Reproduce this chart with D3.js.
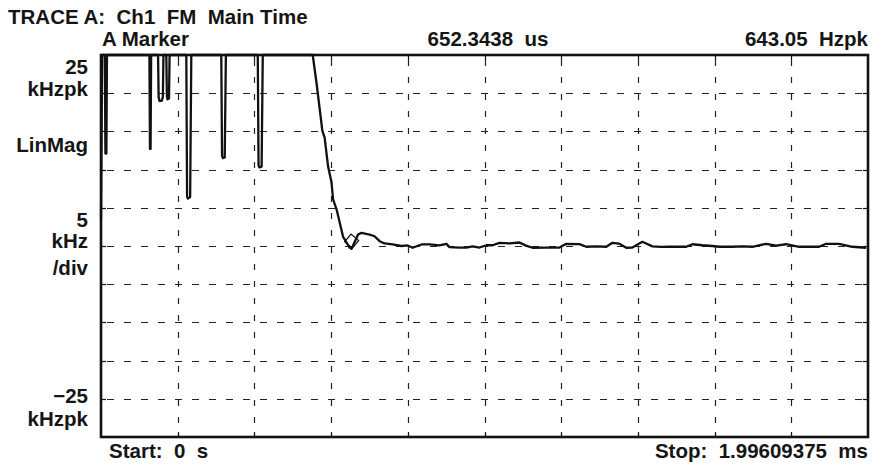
<!DOCTYPE html>
<html>
<head>
<meta charset="utf-8">
<script src="https://cdn.jsdelivr.net/npm/d3@7"></script>
<style>
  body { margin: 0; background: #fff; }
  text { font-family: "Liberation Sans", Arial, sans-serif; font-weight: bold; font-size: 20.5px; fill: #151515; white-space: pre; }
</style>
</head>
<body>
<div id="chart"></div>
<script>
// trace: time in us, deviation in kHz (clipped at +25)
const traceTime = [0, 3, 10, 11.5, 14, 15.5,
  126, 127.5, 129, 130.5,
  148.5, 150, 152, 158, 161, 162.5,
  170, 171.5, 173, 177, 178.5,
  222, 224, 226, 232, 235,
  313, 315, 317, 322, 325,
  408, 410, 412, 418, 421,
  551, 561, 576, 582, 591, 600, 604, 613, 621, 630, 639, 647, 652,
  669, 678, 699, 712, 725, 738, 759, 782, 798, 811, 834, 855, 881, 899,
  907, 933, 951, 967, 985, 1003, 1019, 1037, 1063, 1089, 1106, 1123, 1159, 1193,
  1211, 1245, 1263, 1289, 1315, 1331, 1349, 1367, 1383, 1409, 1435, 1457, 1479,
  1523, 1539, 1565, 1591, 1609, 1643, 1669, 1695, 1731, 1757, 1783, 1817, 1843,
  1869, 1887, 1921, 1955, 1991]
const traceKHz = [3.5, 25, 25, 12.1, 12.1, 25,
  25, 12.7, 12.7, 25,
  25, 19.5, 19.0, 19.0, 19.5, 25,
  25, 19.6, 19.2, 19.3, 25,
  25, 6.5, 6.2, 6.4, 25,
  25, 11.8, 11.5, 11.6, 25,
  25, 10.6, 10.3, 10.4, 25,
  25, 21.3, 15.1, 14.2, 10.4, 8.3, 6.1, 4.8, 3.1, 1.2, 0.46, -0.2, -0.37,
  1.5, 1.72, 1.5, 1.28, 0.63, 0.33, 0.2, 0, 0.07, -0.23, 0.2, 0.2, 0.07, 0.29,
  -0.15, -0.2, -0.2, -0.05, -0.2, 0.1, 0.1, 0.42, 0.35, 0.46, 0.05, -0.23, -0.2, -0.2,
  0.29, 0.25, -0.1, -0.05, -0.1, 0.42, 0.3, -0.23, -0.2, 0.55, -0.05, -0.12, -0.1,
  -0.1, 0.23, 0.1, 0.0, -0.1, -0.1, -0.05, -0.1, 0.29, 0.05, 0.23, -0.1, -0.1,
  -0.1, 0.29, 0.29, -0.1, -0.23]

const xMax = 1996.09375   // us
const yDomain = [-25, 25]
const divisions = 10
const marker = { t: 652.3438, v: 0.64305 }

const leftLabels = [
  { text: "25", y: 74 }, { text: "kHzpk", y: 96 }, { text: "LinMag", y: 152 },
  { text: "5", y: 227 }, { text: "kHz", y: 248 }, { text: "/div", y: 275 },
  { text: "\u221225", y: 403 }, { text: "kHzpk", y: 426 }
]

const W = 878, H = 466
const plot = { left: 101, right: 868, top: 55, bottom: 437 }

const svg = d3.select("#chart").append("svg")
  .attr("width", W).attr("height", H)

const x = d3.scaleLinear().domain([0, xMax]).range([plot.left, plot.right])
const y = d3.scaleLinear().domain(yDomain).range([plot.bottom, plot.top])

const xDivs = d3.range(1, divisions).map(i => i * xMax / divisions)
const yDivs = d3.range(1, divisions).map(i => yDomain[0] + i * (yDomain[1] - yDomain[0]) / divisions)

// dashed graticule
svg.append("g").selectAll("line.v").data(xDivs).enter().append("line")
  .attr("x1", d => Math.round(x(d)) + 0.5).attr("x2", d => Math.round(x(d)) + 0.5)
  .attr("y1", plot.top).attr("y2", plot.bottom)
  .attr("stroke", "#222").attr("stroke-width", 1.2).attr("stroke-dasharray", "6,11")
  .attr("stroke-dashoffset", -5)
svg.append("g").selectAll("line.h").data(yDivs).enter().append("line")
  .attr("y1", d => Math.round(y(d)) + 0.5).attr("y2", d => Math.round(y(d)) + 0.5)
  .attr("x1", plot.left).attr("x2", plot.right)
  .attr("stroke", "#222").attr("stroke-width", 1.2).attr("stroke-dasharray", "7,10")
  .attr("stroke-dashoffset", -6)

// small ticks on the frame
const tickLen = 5
const ticks = svg.append("g").attr("stroke", "#111").attr("stroke-width", 1.2)
xDivs.forEach(d => {
  const px = Math.round(x(d)) + 0.5
  ticks.append("line").attr("x1", px).attr("x2", px).attr("y1", plot.top).attr("y2", plot.top + tickLen)
  ticks.append("line").attr("x1", px).attr("x2", px).attr("y1", plot.bottom).attr("y2", plot.bottom - tickLen)
})
yDivs.forEach(d => {
  const py = Math.round(y(d)) + 0.5
  ticks.append("line").attr("y1", py).attr("y2", py).attr("x1", plot.left).attr("x2", plot.left + tickLen)
  ticks.append("line").attr("y1", py).attr("y2", py).attr("x1", plot.right).attr("x2", plot.right - tickLen)
})

// frame
svg.append("rect")
  .attr("x", plot.left).attr("y", plot.top)
  .attr("width", plot.right - plot.left).attr("height", plot.bottom - plot.top)
  .attr("fill", "none").attr("stroke", "#111").attr("stroke-width", 2.6)

// trace
const traceData = traceTime.map((t, i) => ({ t: t, v: traceKHz[i] }))
const line = d3.line().x(d => x(d.t)).y(d => y(d.v))
svg.append("path").datum(traceData)
  .attr("d", line)
  .attr("fill", "none").attr("stroke", "#111").attr("stroke-width", 2.3)
  .attr("stroke-linejoin", "round")

// marker diamond
svg.append("path")
  .attr("d", d3.symbol(d3.symbolSquare, 100)())
  .attr("transform", "translate(" + x(marker.t) + "," + y(marker.v) + ") rotate(40)")
  .attr("fill", "none").attr("stroke", "#111").attr("stroke-width", 1.2)

// texts
svg.append("text").attr("x", 8).attr("y", 24).text("TRACE A:  Ch1  FM  Main Time")
svg.append("text").attr("x", 102).attr("y", 46).text("A Marker")
svg.append("text").attr("x", 488).attr("y", 46).attr("text-anchor", "middle").text("652.3438  us")
svg.append("text").attr("x", 868).attr("y", 46).attr("text-anchor", "end").text("643.05  Hzpk")
svg.append("text").attr("x", 109).attr("y", 458).text("Start:  0  s")
svg.append("text").attr("x", 868).attr("y", 458).attr("text-anchor", "end").text("Stop:  1.99609375  ms")

svg.append("g").selectAll("text").data(leftLabels).enter().append("text")
  .attr("x", 88).attr("y", d => d.y).attr("text-anchor", "end").text(d => d.text)
</script>
</body>
</html>
